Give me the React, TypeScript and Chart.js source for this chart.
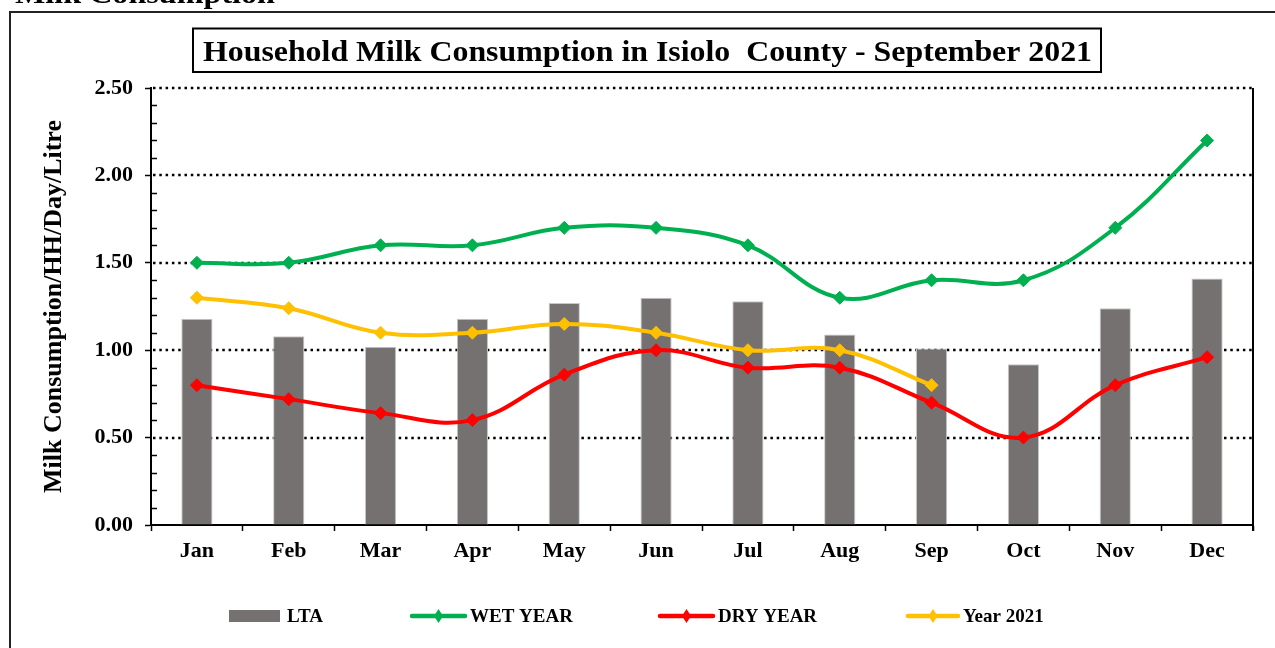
import React, { useEffect, useRef } from "react";
import { Chart, registerables } from "chart.js";

Chart.register(...registerables);

const months = ["Jan", "Feb", "Mar", "Apr", "May", "Jun", "Jul", "Aug", "Sep", "Oct", "Nov", "Dec"];
const ltaValues = [1.18, 1.08, 1.02, 1.18, 1.27, 1.3, 1.28, 1.09, 1.01, 0.92, 1.24, 1.41];
const wetYear = [1.5, 1.5, 1.6, 1.6, 1.7, 1.7, 1.6, 1.3, 1.4, 1.4, 1.7, 2.2];
const dryYear = [0.8, 0.72, 0.64, 0.6, 0.86, 1.0, 0.9, 0.9, 0.7, 0.5, 0.8, 0.96];
const year2021 = [1.3, 1.24, 1.1, 1.1, 1.15, 1.1, 1.0, 1.0, 0.8, null, null, null];
const yTicks = [0, 0.5, 1, 1.5, 2, 2.5];
const seriesLabels = ["LTA", "WET YEAR", "DRY YEAR", "Year 2021"];
const chartTitle = "Household Milk Consumption in Isiolo  County - September 2021";
const pageHeading = "Milk Consumption";
const yAxisTitle = "Milk Consumption/HH/Day/Litre";

const SERIF = "'Liberation Serif', 'Times New Roman', serif";
const BAR_COLOR = "#767171";
const GREEN = "#00B050";
const RED = "#FF0000";
const YELLOW = "#FFC000";

function drawFit(ctx: CanvasRenderingContext2D, text: string, x: number, y: number, w: number, font: string, align: CanvasTextAlign) {
  ctx.save();
  ctx.font = font;
  const m = ctx.measureText(text).width;
  const s = w / m;
  ctx.translate(x, y);
  ctx.scale(s, 1);
  ctx.textAlign = align;
  ctx.textBaseline = "alphabetic";
  ctx.fillStyle = "#000";
  ctx.fillText(text, 0, 0);
  ctx.restore();
}

const decor = {
  id: "decor",
  beforeDraw(chart: any) {
    const ctx: CanvasRenderingContext2D = chart.ctx;
    ctx.save();
    ctx.fillStyle = "#fff";
    ctx.fillRect(0, 0, chart.width, chart.height);
    ctx.strokeStyle = "#222";
    ctx.lineWidth = 2;
    ctx.beginPath();
    ctx.moveTo(10, chart.height + 2);
    ctx.lineTo(10, 12);
    ctx.lineTo(chart.width + 2, 12);
    ctx.stroke();
    drawFit(ctx, pageHeading, 15, 3, 260, `bold 28px ${SERIF}`, "left");
    ctx.strokeStyle = "#000";
    ctx.lineWidth = 2;
    ctx.strokeRect(193, 28.5, 908, 43.5);
    drawFit(ctx, chartTitle, 647.5, 61, 889, `bold 30px ${SERIF}`, "center");
    ctx.restore();
  },
  beforeDatasetsDraw(chart: any) {
    const ctx: CanvasRenderingContext2D = chart.ctx;
    const { left, right, top, bottom } = chart.chartArea;
    const y = chart.scales.y;
    ctx.save();
    ctx.strokeStyle = "#000";
    ctx.lineWidth = 2.5;
    ctx.setLineDash([2.5, 3.8]);
    yTicks.forEach((v) => {
      if (v === 0) return;
      const py = Math.round(y.getPixelForValue(v));
      ctx.beginPath();
      ctx.moveTo(left + 2, py);
      ctx.lineTo(right, py);
      ctx.stroke();
    });
    ctx.setLineDash([]);
    ctx.lineWidth = 1.5;
    for (let i = 1; i < 25; i++) {
      if (i % 5 === 0) continue;
      const py = Math.round(y.getPixelForValue(i / 10)) + 0.5;
      ctx.beginPath();
      ctx.moveTo(left, py);
      ctx.lineTo(left + 6, py);
      ctx.stroke();
    }
    ctx.lineWidth = 2;
    ctx.beginPath();
    ctx.moveTo(right, top);
    ctx.lineTo(right, bottom + 6);
    ctx.stroke();
    ctx.restore();
  },
  afterDraw(chart: any) {
    const ctx: CanvasRenderingContext2D = chart.ctx;
    const ly = 616;
    const font = `bold 19px ${SERIF}`;
    const entries = [
      { kind: "bar", x0: 229, x1: 280, tx: 287, color: BAR_COLOR, label: seriesLabels[0] },
      { kind: "line", x0: 412, x1: 465, tx: 470, color: GREEN, label: seriesLabels[1] },
      { kind: "line", x0: 660, x1: 713, tx: 718, color: RED, label: seriesLabels[2] },
      { kind: "line", x0: 908, x1: 958, tx: 963, color: YELLOW, label: seriesLabels[3] },
    ];
    ctx.save();
    entries.forEach((e) => {
      if (e.kind === "bar") {
        ctx.fillStyle = e.color;
        ctx.fillRect(e.x0, ly - 6, e.x1 - e.x0, 12);
      } else {
        ctx.strokeStyle = e.color;
        ctx.lineWidth = 4.5;
        ctx.lineCap = "round";
        ctx.beginPath();
        ctx.moveTo(e.x0, ly);
        ctx.lineTo(e.x1, ly);
        ctx.stroke();
        const cx = (e.x0 + e.x1) / 2;
        ctx.fillStyle = e.color;
        ctx.beginPath();
        ctx.moveTo(cx, ly - 7);
        ctx.lineTo(cx + 4.5, ly);
        ctx.lineTo(cx, ly + 7);
        ctx.lineTo(cx - 4.5, ly);
        ctx.closePath();
        ctx.fill();
      }
      ctx.fillStyle = "#000";
      ctx.font = font;
      ctx.textAlign = "left";
      ctx.textBaseline = "middle";
      ctx.fillText(e.label, e.tx, ly + 1);
    });
    ctx.restore();
  },
};

export default function App() {
  const ref = useRef<HTMLCanvasElement | null>(null);
  useEffect(() => {
    if (!ref.current) return;
    const lineDs = (label: string, data: (number | null)[], color: string) => ({
      type: "line" as const,
      label,
      data,
      borderColor: color,
      backgroundColor: color,
      pointBackgroundColor: color,
      pointBorderColor: color,
      pointStyle: "rectRot",
      pointRadius: 6.5,
      pointBorderWidth: 1,
      borderWidth: 4,
      tension: 0.4,
      fill: false,
      spanGaps: false,
      order: 1,
    });
    const chart = new Chart(ref.current, {
      type: "bar",
      data: {
        labels: months,
        datasets: [
          {
            type: "bar",
            label: seriesLabels[0],
            data: ltaValues,
            backgroundColor: BAR_COLOR,
            borderColor: "#c9c9c9",
            borderWidth: 1,
            borderSkipped: "bottom",
            barPercentage: 0.34,
            categoryPercentage: 1,
            order: 2,
          } as any,
          lineDs(seriesLabels[1], wetYear, GREEN) as any,
          lineDs(seriesLabels[2], dryYear, RED) as any,
          lineDs(seriesLabels[3], year2021, YELLOW) as any,
        ],
      },
      options: {
        responsive: false,
        animation: false,
        devicePixelRatio: 1,
        layout: { padding: { top: 88, left: 0, right: 22, bottom: 63 } },
        plugins: {
          legend: { display: false },
          tooltip: { enabled: false },
          title: { display: false },
        },
        scales: {
          x: {
            offset: true,
            grid: {
              offset: true,
              drawOnChartArea: false,
              drawTicks: true,
              tickLength: 6,
              tickColor: "#000",
              tickWidth: 1.5,
            },
            border: { display: true, color: "#000", width: 2 },
            ticks: {
              color: "#000",
              font: { family: SERIF, size: 22, weight: "bold" },
              padding: 7,
              maxRotation: 0,
            },
            afterFit: (s: any) => {
              s.height = 60;
            },
          },
          y: {
            min: 0,
            max: 2.5,
            afterBuildTicks: (s: any) => {
              s.ticks = yTicks.map((v) => ({ value: v }));
            },
            grid: {
              drawOnChartArea: false,
              drawTicks: true,
              tickLength: 6,
              tickColor: "#000",
              tickWidth: 1.5,
            },
            border: { display: true, color: "#000", width: 2 },
            ticks: {
              color: "#000",
              font: { family: SERIF, size: 22, weight: "bold" },
              padding: 12,
              callback: (v: any) => Number(v).toFixed(2),
            },
            title: {
              display: true,
              text: yAxisTitle,
              color: "#000",
              font: { family: SERIF, size: 26, weight: "bold" },
              padding: { top: 39, bottom: 0 },
            },
            afterFit: (s: any) => {
              s.width = 151;
            },
          },
        },
      } as any,
      plugins: [decor],
    });
    return () => chart.destroy();
  }, []);
  return (
    <div style={{ position: "fixed", left: 0, top: 0, width: 1275, height: 648, overflow: "hidden", background: "#fff" }}>
      <canvas ref={ref} width={1275} height={648} style={{ display: "block" }} />
    </div>
  );
}
